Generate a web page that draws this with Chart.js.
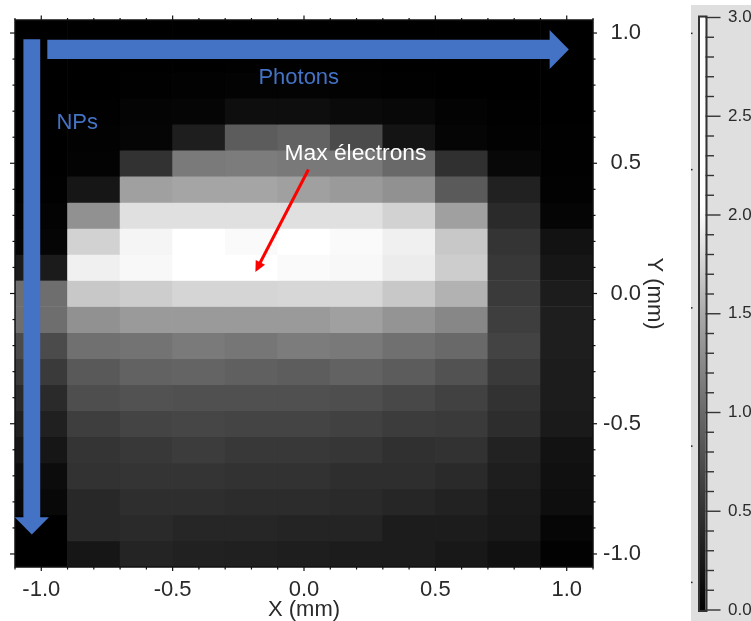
<!DOCTYPE html>
<html>
<head>
<meta charset="utf-8">
<title>Max électrons</title>
<script src="https://cdn.jsdelivr.net/npm/chart.js@4/dist/chart.umd.min.js"></script>
<style>
  html, body { margin: 0; padding: 0; background: #fff; overflow: hidden; }
  canvas { filter: blur(0.4px); }
  #map { position: absolute; left: 0; top: 0; }
  #bar { position: absolute; left: 691px; top: 5px; }
</style>
</head>
<body>
<canvas id="map" width="751" height="621"></canvas>
<canvas id="bar" width="60" height="616"></canvas>
<script>
// colonnes et lignes de la carte (mm)
const columns = [-1.0, -0.8, -0.6, -0.4, -0.2, 0.0, 0.2, 0.4, 0.6, 0.8, 1.0];
const rowCenters = [1.0, 0.9, 0.8, 0.7, 0.6, 0.5, 0.4, 0.3, 0.2, 0.1, 0.0, -0.1, -0.2, -0.3, -0.4, -0.5, -0.6, -0.7, -0.8, -0.9, -1.0];

// valeurs, une liste par ligne
const rowP10 = [0, 0, 0, 0, 0, 0, 0, 0, 0, 0, 0];
const rowP09 = [0, 0, 0, 0, 0.01, 0.01, 0.01, 0, 0, 0, 0];
const rowP08 = [0, 0, 0.01, 0.02, 0.03, 0.03, 0.02, 0.01, 0, 0, 0];
const rowP07 = [0, 0.01, 0.04, 0.05, 0.14, 0.14, 0.10, 0.08, 0.03, 0.01, 0];
const rowP06 = [0, 0.02, 0.05, 0.30, 0.88, 0.94, 0.73, 0.20, 0.05, 0.02, 0.01];
const rowP05 = [0, 0.03, 0.50, 1.13, 1.15, 1.12, 1.12, 1.00, 0.48, 0.08, 0.01];
const rowP04 = [0.01, 0.22, 1.42, 1.46, 1.46, 1.42, 1.38, 1.31, 0.86, 0.33, 0.02];
const rowP03 = [0.03, 1.31, 1.84, 1.84, 1.84, 1.84, 1.84, 1.75, 1.42, 0.42, 0.05];
const rowP02 = [0.05, 1.75, 1.97, 2.05, 2.00, 2.05, 2.00, 1.94, 1.69, 0.52, 0.18];
const rowP01 = [0.27, 1.94, 1.99, 2.05, 2.05, 2.00, 1.99, 1.91, 1.72, 0.55, 0.22];
const rowZ00 = [1.04, 1.69, 1.72, 1.77, 1.77, 1.78, 1.78, 1.69, 1.55, 0.57, 0.28];
const rowN01 = [1.04, 1.31, 1.38, 1.38, 1.38, 1.38, 1.42, 1.33, 1.23, 0.61, 0.30];
const rowN02 = [0.73, 1.05, 1.08, 1.13, 1.10, 1.15, 1.12, 1.05, 1.00, 0.65, 0.30];
const rowN03 = [0.57, 0.85, 0.94, 0.95, 0.92, 0.89, 0.94, 0.88, 0.79, 0.57, 0.28];
const rowN04 = [0.42, 0.75, 0.79, 0.77, 0.77, 0.77, 0.75, 0.70, 0.64, 0.50, 0.28];
const rowN05 = [0.32, 0.61, 0.66, 0.68, 0.66, 0.66, 0.64, 0.59, 0.57, 0.45, 0.26];
const rowN06 = [0.22, 0.52, 0.55, 0.59, 0.55, 0.55, 0.54, 0.48, 0.50, 0.34, 0.18];
const rowN07 = [0.12, 0.50, 0.52, 0.52, 0.50, 0.50, 0.46, 0.46, 0.42, 0.30, 0.16];
const rowN08 = [0.08, 0.40, 0.46, 0.46, 0.44, 0.44, 0.42, 0.38, 0.34, 0.26, 0.14];
const rowN09 = [0, 0.40, 0.42, 0.38, 0.38, 0.36, 0.36, 0.28, 0.28, 0.24, 0.06];
const rowN10 = [0, 0.22, 0.36, 0.33, 0.32, 0.30, 0.28, 0.28, 0.24, 0.17, 0.02];
const rows = [rowP10, rowP09, rowP08, rowP07, rowP06, rowP05, rowP04, rowP03, rowP02, rowP01, rowZ00,
              rowN01, rowN02, rowN03, rowN04, rowN05, rowN06, rowN07, rowN08, rowN09, rowN10];

// graduations
const xMajor = [-1.0, -0.5, 0.0, 0.5, 1.0];
const xMinor = [-1.1, -0.9, -0.8, -0.7, -0.6, -0.4, -0.3, -0.2, -0.1, 0.1, 0.2, 0.3, 0.4, 0.6, 0.7, 0.8, 0.9, 1.1];
const yMajor = [1.0, 0.5, 0.0, -0.5, -1.0];
const yMinor = [0.9, 0.8, 0.7, 0.6, 0.4, 0.3, 0.2, 0.1, -0.1, -0.2, -0.3, -0.4, -0.6, -0.7, -0.8, -0.9];
const barMajor = [0.0, 0.5, 1.0, 1.5, 2.0, 2.5, 3.0];
const barMinor = [0.1, 0.2, 0.3, 0.4, 0.6, 0.7, 0.8, 0.9, 1.1, 1.2, 1.3, 1.4, 1.6, 1.7, 1.8, 1.9, 2.1, 2.2, 2.3, 2.4, 2.6, 2.7, 2.8, 2.9];
const barEdgeDots = [0.14, 0.83, 1.53, 2.23, 2.92];

// echelle de gris de la barre
const grayValues = [0, 0.5, 1.0, 1.5, 2.0, 2.05, 3.0];
const grayLevels = [0, 50, 105, 170, 250, 255, 255];

const sansFont = '"Liberation Sans", Arial, sans-serif';
const textColor = '#2a2a2a';
const blue = '#4472c4';

function grayFor(v) {
  let i = 0;
  while (i < grayValues.length - 2 && v > grayValues[i + 1]) i++;
  const t = (v - grayValues[i]) / (grayValues[i + 1] - grayValues[i]);
  const g = Math.round(grayLevels[i] + t * (grayLevels[i + 1] - grayLevels[i]));
  return `rgb(${g},${g},${g})`;
}

function blockArrow(ctx, pts, color, x, y) {
  ctx.fillStyle = color;
  ctx.beginPath();
  pts.forEach((p, i) => {
    if (i === 0) ctx.moveTo(x.getPixelForValue(p[0]), y.getPixelForValue(p[1]));
    else ctx.lineTo(x.getPixelForValue(p[0]), y.getPixelForValue(p[1]));
  });
  ctx.closePath();
  ctx.fill();
}

const mapMarks = {
  id: 'mapMarks',
  afterDatasetsDraw(chart) {
    const { ctx, chartArea: a, scales: { x, y } } = chart;
    ctx.save();

    // cadre et graduations sur les quatre cotes
    ctx.strokeStyle = '#111';
    ctx.lineWidth = 1.5;
    ctx.strokeRect(a.left, a.top, a.right - a.left, a.bottom - a.top);
    const tick = (x0, y0, x1, y1) => {
      ctx.beginPath(); ctx.moveTo(x0, y0); ctx.lineTo(x1, y1); ctx.stroke();
    };
    ctx.lineWidth = 1.2;
    xMajor.forEach(v => { const p = x.getPixelForValue(v); tick(p, a.top, p, a.top - 4.5); tick(p, a.bottom, p, a.bottom + 4); });
    xMinor.forEach(v => { const p = x.getPixelForValue(v); tick(p, a.top, p, a.top - 2); tick(p, a.bottom, p, a.bottom + 2.5); });
    yMajor.forEach(v => { const p = y.getPixelForValue(v); tick(a.left, p, a.left - 5, p); tick(a.right, p, a.right + 4, p); });
    yMinor.forEach(v => { const p = y.getPixelForValue(v); tick(a.left, p, a.left - 2.5, p); tick(a.right, p, a.right + 2.5, p); });

    // fleches bleues
    blockArrow(ctx, [[-0.977, 0.974], [0.935, 0.974], [0.935, 1.012], [1.008, 0.937], [0.935, 0.862], [0.935, 0.9], [-0.977, 0.9]], blue, x, y);
    blockArrow(ctx, [[-1.068, 0.976], [-1.004, 0.976], [-1.004, -0.859], [-0.971, -0.859], [-1.036, -0.925], [-1.101, -0.859], [-1.068, -0.859]], blue, x, y);

    // fleche rouge
    const x0 = x.getPixelForValue(0.017), y0 = y.getPixelForValue(0.476);
    const x1 = x.getPixelForValue(-0.185), y1 = y.getPixelForValue(0.083);
    const ang = Math.atan2(y1 - y0, x1 - x0);
    ctx.strokeStyle = '#ff0000';
    ctx.lineWidth = 3;
    tick(x0, y0, x1 - 8 * Math.cos(ang), y1 - 8 * Math.sin(ang));
    ctx.fillStyle = '#ff0000';
    ctx.beginPath();
    ctx.moveTo(x1, y1);
    ctx.lineTo(x1 - 12 * Math.cos(ang - 0.45), y1 - 12 * Math.sin(ang - 0.45));
    ctx.lineTo(x1 - 12 * Math.cos(ang + 0.45), y1 - 12 * Math.sin(ang + 0.45));
    ctx.closePath();
    ctx.fill();

    // textes
    ctx.font = '22px ' + sansFont;
    ctx.textAlign = 'center';
    ctx.textBaseline = 'middle';
    ctx.fillStyle = blue;
    ctx.fillText('Photons', x.getPixelForValue(-0.02), y.getPixelForValue(0.826));
    ctx.fillText('NPs', x.getPixelForValue(-0.863), y.getPixelForValue(0.653));
    ctx.font = '22.8px ' + sansFont;
    ctx.fillStyle = '#fff';
    ctx.fillText('Max électrons', x.getPixelForValue(0.196), y.getPixelForValue(0.538));
    ctx.restore();
  }
};

new Chart(document.getElementById('map'), {
  type: 'bar',
  data: {
    labels: columns,
    datasets: rows.map((vals, r) => ({
      data: vals.map(() => [rowCenters[r] - 0.05, rowCenters[r] + 0.05]),
      backgroundColor: vals.map(grayFor),
      borderWidth: 0,
      xAxisID: 'cells',
      yAxisID: 'y',
      grouped: false,
      barPercentage: 1,
      categoryPercentage: 1
    }))
  },
  plugins: [mapMarks],
  options: {
    responsive: false,
    animation: false,
    events: [],
    layout: { padding: { left: 15, top: 20, right: 86, bottom: 0 } },
    plugins: { legend: { display: false }, tooltip: { enabled: false } },
    scales: {
      cells: { type: 'category', position: 'bottom', display: false },
      x: {
        type: 'linear',
        position: 'bottom',
        offset: false,
        min: -1.1,
        max: 1.1,
        afterBuildTicks: s => { s.ticks = xMajor.map(v => ({ value: v })); },
        afterFit: s => { s.height = 54; s.paddingLeft = 0; s.paddingRight = 0; },
        grid: { display: false, drawTicks: false, offset: false },
        border: { display: false },
        ticks: {
          autoSkip: false, maxRotation: 0, padding: 10, color: textColor,
          font: { family: sansFont, size: 22 },
          callback: v => v.toFixed(1)
        },
        title: {
          display: true, text: 'X (mm)', color: textColor, padding: 0,
          font: { family: sansFont, size: 22, lineHeight: 1 }
        }
      },
      y: {
        type: 'linear',
        position: 'right',
        weight: 0,
        min: -1.05,
        max: 1.05,
        afterBuildTicks: s => { s.ticks = yMajor.map(v => ({ value: v })); },
        afterFit: s => { s.width = 48; s.paddingTop = 0; s.paddingBottom = 0; },
        grid: { display: false, drawTicks: false },
        border: { display: false },
        ticks: {
          autoSkip: false, padding: 9, crossAlign: 'far', color: textColor,
          font: { family: sansFont, size: 22 },
          callback: v => v.toFixed(1)
        }
      },
      yTitle: {
        type: 'linear',
        position: 'right',
        weight: 1,
        min: -1.05,
        max: 1.05,
        afterFit: s => { s.width = 24; s.paddingTop = 0; s.paddingBottom = 0; },
        grid: { display: false, drawTicks: false },
        border: { display: false },
        ticks: { display: false },
        title: {
          display: true, text: 'Y (mm)', color: textColor, padding: 0,
          font: { family: sansFont, size: 22, lineHeight: 1 }
        }
      }
    }
  }
});

// barre de couleur
const barMarks = {
  id: 'barMarks',
  beforeDraw(chart) {
    const { ctx, width, height } = chart;
    ctx.fillStyle = '#dfdfdf';
    ctx.fillRect(0, 0, width, height);
  },
  afterDatasetsDraw(chart) {
    const { ctx, chartArea: a, scales: { y } } = chart;
    ctx.save();
    ctx.strokeStyle = '#333';
    ctx.lineWidth = 2;
    ctx.strokeRect(a.left - 1, a.top - 1, a.right - a.left + 2, a.bottom - a.top + 2);
    const tick = (v, len) => {
      const p = y.getPixelForValue(v);
      ctx.beginPath(); ctx.moveTo(a.right, p); ctx.lineTo(a.right + len, p); ctx.stroke();
    };
    ctx.lineWidth = 1.4;
    barMajor.forEach(v => tick(v, 15));
    barMinor.forEach(v => tick(v, 8.5));
    // petites marques au bord gauche du panneau
    ctx.fillStyle = '#222';
    barEdgeDots.forEach(v => ctx.fillRect(0, y.getPixelForValue(v) - 0.7, 1.5, 1.5));
    ctx.restore();
  }
};

new Chart(document.getElementById('bar'), {
  type: 'bar',
  data: {
    labels: ['e'],
    datasets: [{
      data: [[0, 3]],
      borderWidth: 0,
      barPercentage: 1,
      categoryPercentage: 1,
      backgroundColor: c => {
        const { ctx, chartArea, scales } = c.chart;
        if (!chartArea) return '#888';
        const g = ctx.createLinearGradient(0, scales.y.getPixelForValue(0), 0, scales.y.getPixelForValue(3));
        grayValues.forEach((v, i) => g.addColorStop(v / 3, `rgb(${grayLevels[i]},${grayLevels[i]},${grayLevels[i]})`));
        return g;
      }
    }]
  },
  plugins: [barMarks],
  options: {
    responsive: false,
    animation: false,
    events: [],
    layout: { padding: { left: 9, top: 12.5, right: 0, bottom: 11 } },
    plugins: { legend: { display: false }, tooltip: { enabled: false } },
    scales: {
      x: { display: false },
      y: {
        type: 'linear',
        position: 'right',
        min: 0,
        max: 3,
        afterBuildTicks: s => { s.ticks = barMajor.map(v => ({ value: v })); },
        afterFit: s => { s.width = 45.5; s.paddingTop = 0; s.paddingBottom = 0; },
        grid: { display: false, drawTicks: false },
        border: { display: false },
        ticks: {
          autoSkip: false, padding: 22.5, color: textColor,
          font: { family: sansFont, size: 17 },
          callback: v => v.toFixed(1)
        }
      }
    }
  }
});
</script>
</body>
</html>
